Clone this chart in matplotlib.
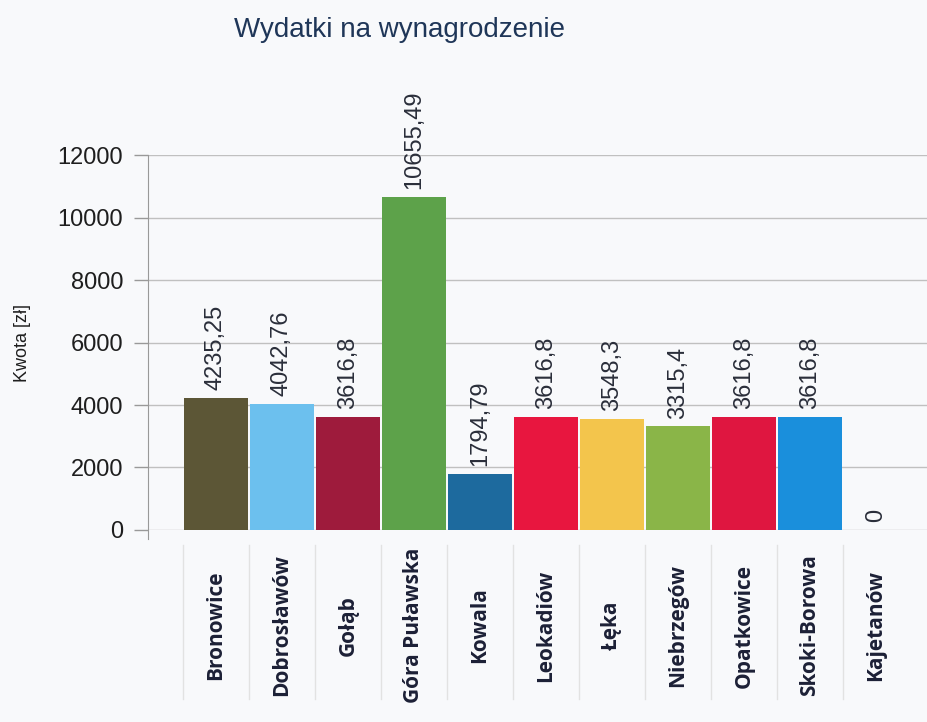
import matplotlib
matplotlib.use("Agg")
import matplotlib.pyplot as plt

categories = ["Bronowice", "Dobrosławów", "Gołąb", "Góra Puławska", "Kowala",
              "Leokadiów", "Łęka", "Niebrzegów", "Opatkowice", "Skoki-Borowa",
              "Kajetanów"]
values = [4235.25, 4042.76, 3616.8, 10655.49, 1794.79, 3616.8, 3548.3,
          3315.4, 3616.8, 3616.8, 0]
colors = ["#5c5636", "#6cc0ee", "#9e1b3c", "#5da24a", "#1d6a9e", "#e8163f",
          "#f3c54c", "#8ab548", "#df1640", "#1a8fdc", "#1a8fdc"]
yticks = [0, 2000, 4000, 6000, 8000, 10000, 12000]

SANS = ["Liberation Sans Narrow", "Liberation Sans", "DejaVu Sans"]


def fmt(v):
    s = f"{v:.2f}".rstrip("0").rstrip(".")
    return s.replace(".", ",")


fig = plt.figure(figsize=(9.28, 7.22), dpi=100, facecolor="#f8f9fb")
ax = fig.add_axes([0.1595, 0.266, 0.8405, 0.519])
ax.set_facecolor("#f8f9fb")

x = list(range(len(categories)))
ax.bar(x, values, width=0.97, color=colors, zorder=3)
ax.set_xlim(-1.03, 10.79)

ax.set_yticks(yticks)
ax.set_yticklabels([str(t) for t in yticks], fontsize=17, color="#1e1e1e",
                   family=SANS)
ax.tick_params(axis="y", length=10, width=1, color="#999999", pad=8)
ax.grid(axis="y", color="#c0c0c0", linewidth=1, zorder=0)
for s in ["top", "right", "bottom"]:
    ax.spines[s].set_visible(False)
ax.spines["left"].set_color("#999999")
ax.spines["left"].set_bounds(-300, 12000)
ax.spines["left"].set_clip_on(False)
ax.set_ylim(0, 12000)
ax.set_xticks([])

ax.set_ylabel("Kwota [zł]", fontsize=13, color="#1e1e1e", family=SANS)
ax.yaxis.set_label_coords(-0.15, 0.5)

for xi, v in zip(x, values):
    ax.text(xi, v + 250, fmt(v), rotation=90, ha="center", va="bottom",
            fontsize=17, color="#2a2e3a", zorder=4, family=SANS)

trans = ax.get_xaxis_transform()
for xi, name in zip(x, categories):
    ax.text(xi, -0.255, name, rotation=90, ha="center", va="center",
            fontsize=15, fontweight="bold", color="#1c2036",
            transform=trans, family=["Open Sans", "DejaVu Sans"], clip_on=False)
for b in [xi + 0.5 for xi in x[:-1]] + [-0.5]:
    ax.plot([b, b], [-0.04, -0.45], transform=trans, color="#e2e2e2",
            linewidth=1, clip_on=False, zorder=1)

fig.text(0.431, 0.958, "Wydatki na wynagrodzenie", ha="center", va="center",
         fontsize=20, color="#1f3658", family=SANS)

fig.savefig("out.png", dpi=100, facecolor=fig.get_facecolor())
